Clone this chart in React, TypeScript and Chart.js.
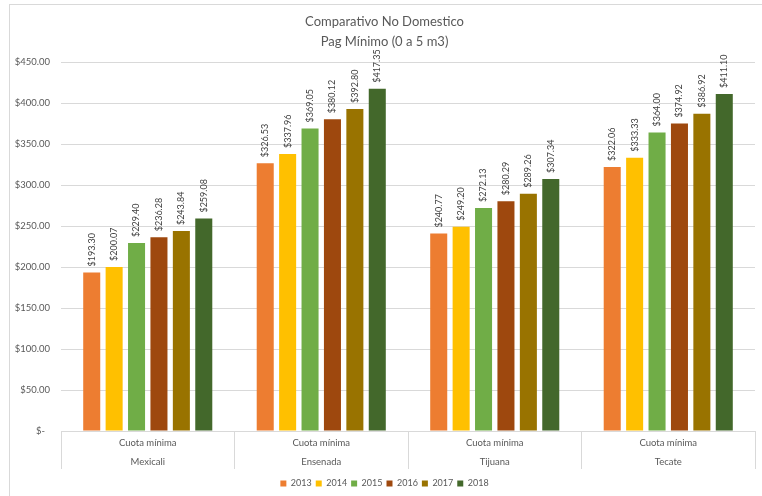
import React, { useEffect, useRef } from "react";
import { Chart, registerables } from "chart.js";

Chart.register(...registerables);

const cities = ["Mexicali", "Ensenada", "Tijuana", "Tecate"];
const concept = "Cuota mínima";
const years = ["2013", "2014", "2015", "2016", "2017", "2018"];
const colors = ["#ED7D31", "#FFC000", "#70AD47", "#9E480E", "#997300", "#43682B"];
const v2013 = [193.3, 326.53, 240.77, 322.06];
const v2014 = [200.07, 337.96, 249.2, 333.33];
const v2015 = [229.4, 369.05, 272.13, 364.0];
const v2016 = [236.28, 380.12, 280.29, 374.92];
const v2017 = [243.84, 392.8, 289.26, 386.92];
const v2018 = [259.08, 417.35, 307.34, 411.1];
const seriesValues = [v2013, v2014, v2015, v2016, v2017, v2018];
const titleLines = ["Comparativo No Domestico", "Pag Mínimo (0 a 5 m3)"];

const FONT = "Lato, 'Noto Sans', sans-serif";
const TEXT = "#595959";
const GRID = "#d9d9d9";

const fmt = (v: number) => (v === 0 ? "$-  " : "$" + v.toFixed(2));

const barLabels = {
  id: "barLabels",
  afterDatasetsDraw(chart: any) {
    const ctx = chart.ctx;
    ctx.save();
    ctx.font = `9px ${FONT}`;
    ctx.fillStyle = "#404040";
    ctx.textAlign = "left";
    ctx.textBaseline = "middle";
    chart.data.datasets.forEach((ds: any, i: number) => {
      const meta = chart.getDatasetMeta(i);
      meta.data.forEach((el: any, j: number) => {
        ctx.save();
        ctx.translate(el.x, el.y - 6);
        ctx.rotate(-Math.PI / 2);
        ctx.fillText(fmt(ds.data[j]), 0, 0);
        ctx.restore();
      });
    });
    ctx.restore();
  },
};

export default function App() {
  const ref = useRef<HTMLCanvasElement>(null);
  useEffect(() => {
    if (!ref.current) return;
    const chart = new Chart(ref.current, {
      type: "bar",
      data: {
        labels: cities.map((c) => [concept, c]),
        datasets: years.map((y, i) => ({
          label: y,
          data: seriesValues[i],
          backgroundColor: colors[i],
          borderWidth: 0,
          categoryPercentage: 0.775,
          barPercentage: 0.76,
        })),
      },
      options: {
        animation: false,
        responsive: false,
        devicePixelRatio: 1,
        layout: { padding: { top: 12, right: 7, left: 14, bottom: -2 } },
        plugins: {
          title: {
            display: true,
            text: titleLines,
            color: TEXT,
            font: { family: FONT, size: 13, weight: "normal", lineHeight: 1.54 },
            padding: { top: 0, bottom: 10 },
          },
          legend: {
            position: "bottom",
            labels: {
              boxWidth: 6,
              boxHeight: 6,
              padding: 4,
              color: TEXT,
              font: { family: FONT, size: 9 },
            },
          },
          tooltip: { enabled: false },
        },
        scales: {
          x: {
            afterFit: (s: any) => {
              s.height = 44;
            },
            grid: {
              offset: true,
              drawOnChartArea: false,
              drawTicks: true,
              tickLength: 38,
              color: GRID,
            },
            border: { display: true, color: GRID },
            ticks: {
              color: TEXT,
              padding: -35.5,
              font: { family: FONT, size: 9.5, lineHeight: 2 },
              maxRotation: 0,
              autoSkip: false,
            },
          },
          y: {
            min: 0,
            max: 450,
            afterFit: (s: any) => {
              s.width = 47;
            },
            grid: { color: GRID, drawTicks: false },
            border: { display: false },
            ticks: {
              stepSize: 50,
              color: TEXT,
              padding: 11,
              font: { family: FONT, size: 9.5 },
              callback: (v: any) => fmt(Number(v)),
            },
          },
        },
      },
      plugins: [barLabels],
    });
    return () => chart.destroy();
  }, []);
  return (
    <div style={{ position: "fixed", left: 0, top: 0, width: 762, height: 496, overflow: "hidden", background: "#fff" }}>
      <div style={{ position: "absolute", left: 9, top: 4, width: 800, height: 600, border: `1px solid ${GRID}` }} />
      <canvas ref={ref} width={762} height={496} style={{ position: "absolute", left: 0, top: 0 }} />
    </div>
  );
}
